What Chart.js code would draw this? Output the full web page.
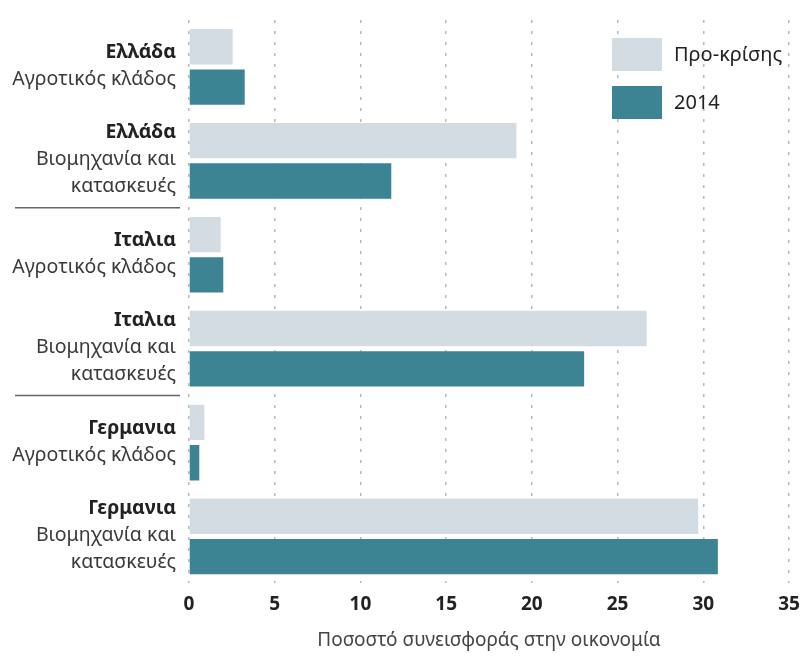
<!DOCTYPE html>
<html>
<head>
<meta charset="utf-8">
<script src="https://cdn.jsdelivr.net/npm/chart.js@4"></script>
<style>
  html, body { margin: 0; padding: 0; background: #fff; }
  #wrap { width: 801px; height: 657px; }
</style>
</head>
<body>
<div id="wrap"><canvas id="chart" width="801" height="657"></canvas></div>
<script>
// δεδομένα
const countries = ['Ελλάδα', 'Ελλάδα', 'Ιταλια', 'Ιταλια', 'Γερμανια', 'Γερμανια'];
const sectors = [
    ['Αγροτικός κλάδος'],
    ['Βιομηχανία και', 'κατασκευές'],
    ['Αγροτικός κλάδος'],
    ['Βιομηχανία και', 'κατασκευές'],
    ['Αγροτικός κλάδος'],
    ['Βιομηχανία και', 'κατασκευές']
];
const preCrisis = [2.55, 19.1, 1.85, 26.7, 0.9, 29.7];
const y2014 = [3.25, 11.8, 2.0, 23.05, 0.6, 30.85];
const seriesNames = ['Προ-κρίσης', '2014'];
const xTicks = [0, 5, 10, 15, 20, 25, 30, 35];
const axisTitle = 'Ποσοστό συνεισφοράς στην οικονομία';

const FONT = "'Noto Sans', 'Open Sans', sans-serif";
const colors = ['#d4dce3', '#3c8494'];

// ετικέτες αριστερά (χώρα έντονα + τομέας)
const rowLabels = {
    id: 'rowLabels',
    afterDraw(chart) {
        const ctx = chart.ctx;
        const y = chart.scales.y;
        const right = chart.chartArea.left - 13;
        const lh = 27;
        ctx.save();
        ctx.textAlign = 'right';
        ctx.textBaseline = 'middle';
        countries.forEach((c, i) => {
            const lines = [c].concat(sectors[i]);
            const cy = y.getPixelForValue(i) - 1;
            let top = cy - (lines.length - 1) * lh / 2;
            lines.forEach((t, k) => {
                ctx.font = (k === 0 ? 'bold ' : '') + '19.5px ' + FONT;
                ctx.fillStyle = k === 0 ? '#222' : '#3a3a3a';
                ctx.fillText(t, right, top + k * lh);
            });
            // διαχωριστική γραμμή μεταξύ χωρών
            if (i < countries.length - 1 && countries[i] !== countries[i + 1]) {
                const sy = (y.getPixelForValue(i) + y.getPixelForValue(i + 1)) / 2;
                ctx.strokeStyle = '#666';
                ctx.lineWidth = 1.5;
                ctx.beginPath();
                ctx.moveTo(15, sy);
                ctx.lineTo(180, sy);
                ctx.stroke();
            }
        });
        ctx.restore();
    }
};

// υπόμνημα πάνω δεξιά
const boxLegend = {
    id: 'boxLegend',
    afterDraw(chart) {
        const ctx = chart.ctx;
        ctx.save();
        ctx.textAlign = 'left';
        ctx.textBaseline = 'middle';
        ctx.font = '20px ' + FONT;
        chart.data.datasets.forEach((ds, i) => {
            const top = 38 + i * 48;
            ctx.fillStyle = ds.backgroundColor;
            ctx.fillRect(612, top, 50, 33);
            ctx.fillStyle = '#222';
            ctx.fillText(ds.label, 674, top + 17);
        });
        ctx.restore();
    }
};

const ctx = document.getElementById('chart').getContext('2d');
new Chart(ctx, {
    type: 'bar',
    data: {
        labels: countries.map((c, i) => c + ' ' + sectors[i].join(' ')),
        datasets: [
            { label: seriesNames[0], data: preCrisis, backgroundColor: colors[0] },
            { label: seriesNames[1], data: y2014, backgroundColor: colors[1] }
        ]
    },
    options: {
        indexAxis: 'y',
        responsive: false,
        animation: false,
        layout: { padding: { left: 189, right: 12, top: 20, bottom: 1 } },
        datasets: {
            bar: { categoryPercentage: 0.86, barPercentage: 0.875 }
        },
        plugins: {
            legend: { display: false },
            tooltip: { enabled: false }
        },
        scales: {
            y: {
                display: false
            },
            x: {
                min: 0,
                max: 35,
                afterBuildTicks: (axis) => { axis.ticks = xTicks.map(v => ({ value: v })); },
                afterFit: (axis) => { axis.paddingLeft = 0; axis.paddingRight = 0; },
                grid: {
                    color: '#b8b8b8',
                    lineWidth: 1.5,
                    drawTicks: false
                },
                border: { display: false, dash: [3, 8] },
                ticks: {
                    padding: 10,
                    color: '#222',
                    font: { family: FONT, size: 19, weight: 'bold' }
                },
                title: {
                    display: true,
                    text: axisTitle,
                    color: '#444',
                    padding: { top: 3, bottom: 4 },
                    font: { family: FONT, size: 19 }
                }
            }
        }
    },
    plugins: [rowLabels, boxLegend]
});
</script>
</body>
</html>
